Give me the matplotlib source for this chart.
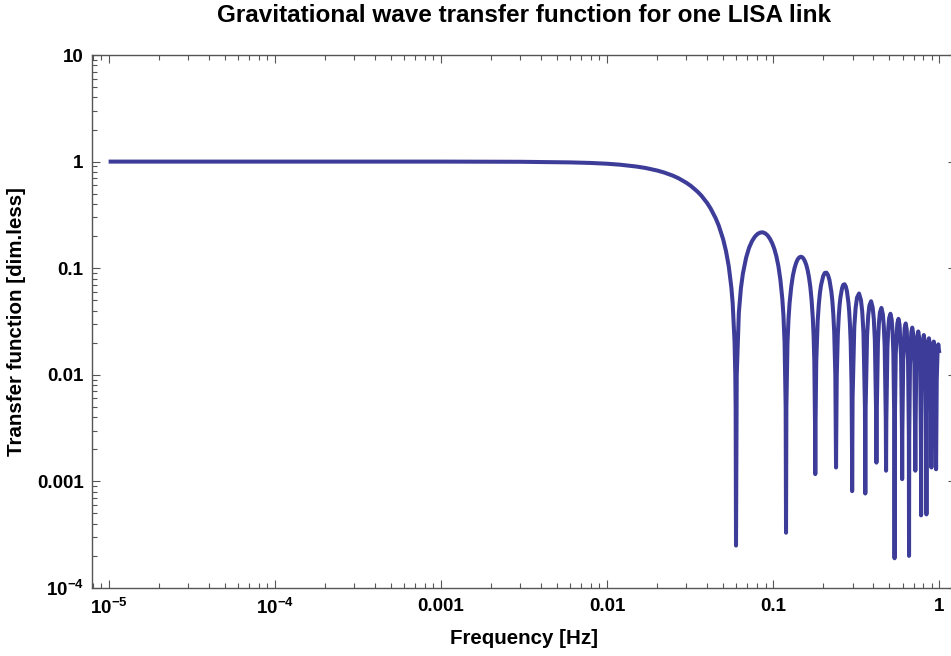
import matplotlib
matplotlib.use("Agg")
import matplotlib.pyplot as plt
from matplotlib.ticker import LogLocator, FixedLocator, NullFormatter

plt.rcParams['font.family'] = ['Liberation Sans', 'DejaVu Sans']
plt.rcParams['mathtext.fontset'] = 'custom'
plt.rcParams['mathtext.rm'] = 'Liberation Sans'
plt.rcParams['mathtext.bf'] = 'Liberation Sans:bold'

# main lobe (flat part + roll-off to first zero)
rolloff_freq = [1e-5, 1e-4, 1e-3, 0.003, 0.006, 0.008, 0.01, 0.012, 0.015, 0.017,
                0.02, 0.022, 0.025, 0.027, 0.03, 0.032, 0.035, 0.037, 0.04, 0.042,
                0.045, 0.047, 0.05, 0.052, 0.054, 0.056, 0.057, 0.0585, 0.0591, 0.0594]
rolloff_tf = [1.0, 1.0, 1.0, 0.996, 0.983, 0.971, 0.955, 0.935, 0.899, 0.872,
              0.825, 0.791, 0.736, 0.696, 0.633, 0.590, 0.523, 0.478, 0.409, 0.363,
              0.295, 0.251, 0.186, 0.144, 0.104, 0.0655, 0.047, 0.0205, 0.0102, 0.005]

# side lobes, each line starts at the dip
lobe_freq = [
    0.0597, 0.0603, 0.0621, 0.0639, 0.0657, 0.0687, 0.0716, 0.0746, 0.0776, 0.0806, 0.0836, 0.0866,
    0.0896, 0.0925, 0.0955, 0.0985, 0.1015, 0.1045, 0.1075, 0.1104, 0.1134, 0.1152, 0.1170, 0.1188,
    0.1194, 0.1200, 0.1218, 0.1236, 0.1254, 0.1284, 0.1313, 0.1343, 0.1373, 0.1403, 0.1433, 0.1463,
    0.1493, 0.1522, 0.1552, 0.1582, 0.1612, 0.1642, 0.1672, 0.1701, 0.1731, 0.1749, 0.1767, 0.1785,
    0.1791, 0.1797, 0.1815, 0.1851, 0.1881, 0.1910, 0.1940, 0.2000, 0.2042,
    0.2090, 0.2137, 0.2179, 0.2239, 0.2269, 0.2298, 0.2328, 0.2364, 0.2382,
    0.2388, 0.2394, 0.2412, 0.2448, 0.2478, 0.2507, 0.2537, 0.2597, 0.2639,
    0.2687, 0.2734, 0.2776, 0.2836, 0.2866, 0.2895, 0.2925, 0.2961, 0.2979,
    0.2985, 0.3003, 0.3075, 0.3134, 0.3194, 0.3284, 0.3373, 0.3433, 0.3492, 0.3564,
    0.3582, 0.3600, 0.3672, 0.3731, 0.3791, 0.3881, 0.3970, 0.4030, 0.4089, 0.4161,
    0.4179, 0.4197, 0.4269, 0.4328, 0.4388, 0.4478, 0.4567, 0.4627, 0.4686, 0.4758,
    0.4776, 0.4794, 0.4866, 0.4925, 0.4985, 0.5075, 0.5164, 0.5224, 0.5283, 0.5355,
    0.5373, 0.5391, 0.5463, 0.5582, 0.5672, 0.5761, 0.5880, 0.5952,
    0.5970, 0.5988, 0.6060, 0.6179, 0.6269, 0.6358, 0.6477, 0.6549,
    0.6567, 0.6585, 0.6657, 0.6776, 0.6866, 0.6955, 0.7074, 0.7146,
    0.7164, 0.7182, 0.7254, 0.7373, 0.7463, 0.7552, 0.7671, 0.7743,
    0.7761, 0.7779, 0.7851, 0.7970, 0.8060, 0.8149, 0.8268, 0.8340,
    0.8358, 0.8376, 0.8448, 0.8567, 0.8657, 0.8746, 0.8865, 0.8937,
    0.8955, 0.8973, 0.9045, 0.9164, 0.9254, 0.9343, 0.9462, 0.9534,
    0.9552, 0.9570, 0.9642, 0.9761, 0.9851, 0.9940, 1.0,
]
lobe_tf = [
    2.5e-4, 0.0099, 0.0384, 0.0649, 0.0894, 0.1257, 0.156, 0.180, 0.198, 0.210, 0.216, 0.217,
    0.212, 0.203, 0.189, 0.172, 0.152, 0.129, 0.104, 0.078, 0.0518, 0.036, 0.0203, 0.0050,
    3.3e-4, 0.0050, 0.0196, 0.0335, 0.0468, 0.0672, 0.0851, 0.100, 0.112, 0.121, 0.126, 0.128,
    0.127, 0.123, 0.116, 0.107, 0.0954, 0.0818, 0.0668, 0.0507, 0.0339, 0.0237, 0.0135, 0.0033,
    1.17e-3, 0.0033, 0.0131, 0.0317, 0.0459, 0.0585, 0.0693, 0.0847, 0.0902,
    0.0909, 0.0861, 0.0777, 0.0600, 0.0493, 0.0375, 0.0252, 0.0101, 0.0025,
    1.35e-3, 0.0025, 0.0099, 0.0240, 0.0348, 0.0446, 0.0530, 0.0652, 0.0698,
    0.0707, 0.0673, 0.0610, 0.0474, 0.0390, 0.0298, 0.0201, 0.0080, 0.0020,
    8.1e-4, 0.0060, 0.0281, 0.0429, 0.0530, 0.0579, 0.0502, 0.0391, 0.0247, 0.0050,
    7.7e-4, 0.0050, 0.0235, 0.0360, 0.0447, 0.0490, 0.0426, 0.0333, 0.0211, 0.0043,
    1.5e-3, 0.0043, 0.0202, 0.0310, 0.0386, 0.0424, 0.0371, 0.0290, 0.0184, 0.0038,
    1.26e-3, 0.0037, 0.0177, 0.0273, 0.0340, 0.0374, 0.0328, 0.0257, 0.0163, 0.0033,
    1.9e-4, 0.0033, 0.0158, 0.0303, 0.0335, 0.0294, 0.0147, 0.0030,
    1.05e-3, 0.0030, 0.0142, 0.0274, 0.0303, 0.0266, 0.0133, 0.0027,
    2.0e-4, 0.0027, 0.0130, 0.0250, 0.0277, 0.0243, 0.0122, 0.0025,
    1.26e-3, 0.0025, 0.0119, 0.0230, 0.0255, 0.0224, 0.0112, 0.0023,
    4.8e-4, 0.0023, 0.0110, 0.0212, 0.0236, 0.0208, 0.0104, 0.0021,
    4.9e-4, 0.0021, 0.0102, 0.0198, 0.0220, 0.0194, 0.0097, 0.0020,
    1.35e-3, 0.0020, 0.0095, 0.0185, 0.0205, 0.0181, 0.0091, 0.0019,
    1.3e-3, 0.0019, 0.0090, 0.0173, 0.0193, 0.0170, 0.0160,
]

xticks = [1e-5, 1e-4, 1e-3, 1e-2, 1e-1, 1]
xlabels = [r'$\mathbf{10^{-5}}$', r'$\mathbf{10^{-4}}$', '0.001', '0.01', '0.1', '1']
yticks = [1e-4, 1e-3, 1e-2, 1e-1, 1, 10]
ylabels = [r'$\mathbf{10^{-4}}$', '0.001', '0.01', '0.1', '1', '10']

freq = rolloff_freq + lobe_freq
tf = rolloff_tf + lobe_tf

W, H = 951, 656
fig = plt.figure(figsize=(W / 100, H / 100), dpi=100)
left, right, top, bottom = 92, 956, 55, 588
ax = fig.add_axes([left / W, 1 - bottom / H, (right - left) / W, (bottom - top) / H])

ax.plot(freq, tf, color='#3d3d99', lw=2.9, solid_joinstyle='round', solid_capstyle='butt')

ax.set_xscale('log')
ax.set_yscale('log')
ax.set_xlim(10 ** -5.1, 10 ** 0.1)
ax.set_ylim(1e-4, 10)

frame = '#555555'
for s in ax.spines.values():
    s.set_color(frame)
    s.set_linewidth(1.0)

ax.xaxis.set_major_locator(FixedLocator(xticks))
ax.set_xticklabels(xlabels)
ax.yaxis.set_major_locator(FixedLocator(yticks))
ax.set_yticklabels(ylabels)
ax.xaxis.set_minor_locator(LogLocator(base=10, subs=range(2, 10), numticks=20))
ax.yaxis.set_minor_locator(LogLocator(base=10, subs=range(2, 10), numticks=20))
ax.xaxis.set_minor_formatter(NullFormatter())
ax.yaxis.set_minor_formatter(NullFormatter())

ax.tick_params(which='both', direction='in', top=True, right=True, color=frame, width=0.8)
ax.tick_params(which='major', length=6)
ax.tick_params(which='minor', length=3.5)
ax.tick_params(axis='x', which='major', pad=7, labelsize=13.5)
ax.tick_params(axis='y', which='major', pad=6, labelsize=13.5)
for lab in ax.get_xticklabels() + ax.get_yticklabels():
    lab.set_fontweight('bold')

ax.set_xlabel('Frequency [Hz]', fontsize=14.8, fontweight='bold', labelpad=8)
ax.set_ylabel('Transfer function [dim.less]', fontsize=14.8, fontweight='bold', labelpad=8)
fig.text(524 / W, 1 - 15 / H, 'Gravitational wave transfer function for one LISA link',
         ha='center', va='center', fontsize=17.5, fontweight='bold')

fig.savefig('out.png', dpi=100)
